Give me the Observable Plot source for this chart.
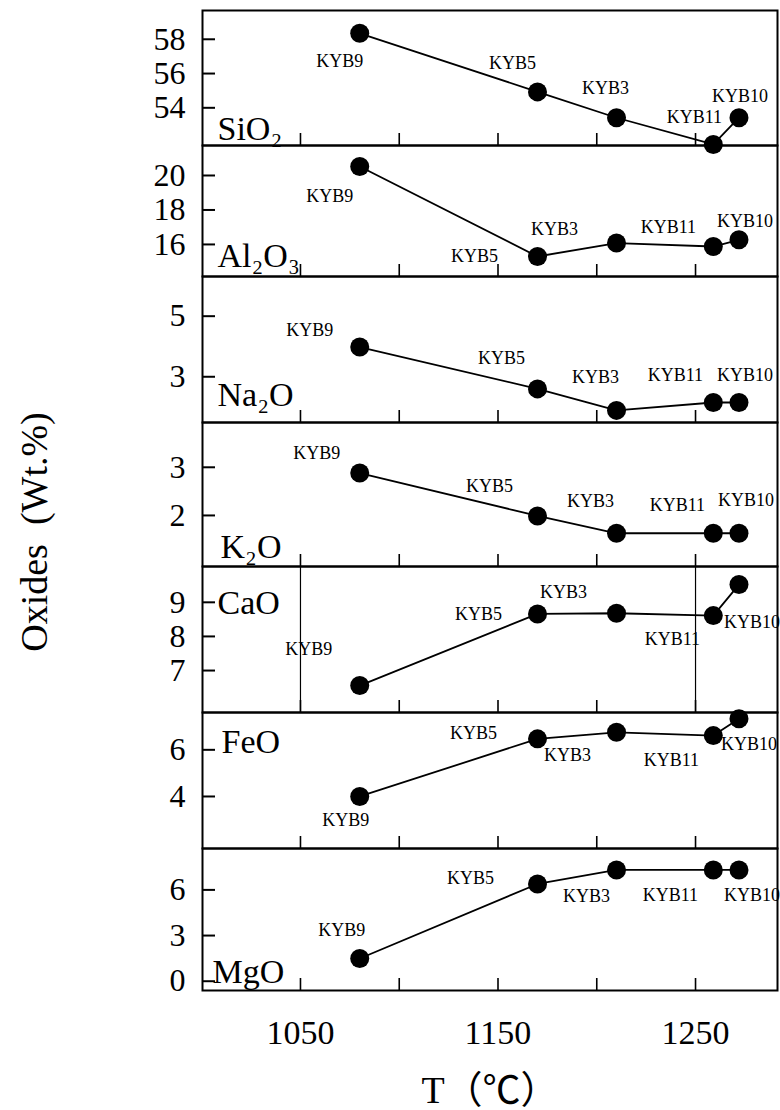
<!DOCTYPE html>
<html><head><meta charset="utf-8">
<script src="https://cdn.jsdelivr.net/npm/d3@7"></script>
<script src="https://cdn.jsdelivr.net/npm/@observablehq/plot@0.6"></script>
<style>
body{margin:0;background:#fff;}
#chart{position:relative;width:780px;height:1110px;font-family:"Liberation Serif",serif;overflow:hidden;}
#chart svg{position:absolute;left:0;}
#chart svg text{font-family:"Liberation Serif","Noto Sans CJK SC",serif;}
#ytitle{position:absolute;left:34px;top:532px;transform:translate(-50%,-50%) rotate(-90deg);white-space:pre;font-size:38px;font-family:"Liberation Serif",serif;color:#000;}
</style></head><body><div id="chart"><div id="ytitle">Oxides  (Wt.%)</div></div>
<script>
// ---- data ----
const samples = ["KYB9", "KYB5", "KYB3", "KYB11", "KYB10"];
const temperature = [1080, 1170, 1210, 1259, 1272];
const oxides = ["SiO₂", "Al₂O₃", "Na₂O", "K₂O", "CaO", "FeO", "MgO"];
const sio2 = [58.35, 54.93, 53.42, 51.86, 53.42];
const al2o3 = [20.52, 15.3, 16.08, 15.88, 16.27];
const na2o = [3.98, 2.6, 1.89, 2.15, 2.15];
const k2o = [2.88, 1.99, 1.63, 1.63, 1.63];
const cao = [6.56, 8.66, 8.68, 8.61, 9.52];
const feo = [4.0, 6.47, 6.75, 6.61, 7.33];
const mgo = [1.49, 6.39, 7.31, 7.31, 7.31];
const sio2Ticks = [54, 56, 58];
const al2o3Ticks = [16, 18, 20];
const na2oTicks = [3, 5];
const k2oTicks = [2, 3];
const caoTicks = [7, 8, 9];
const feoTicks = [4, 6];
const mgoTicks = [0, 3, 6];
const xMinorTicks = [1050, 1100, 1150, 1200, 1250];
const xLabelTicks = [1050, 1150, 1250];
const caoGuides = [1050, 1250];

// ---- layout ----
const W = 780, ML = 202, MR = 3;
const X_DOMAIN = [1000.4, 1291.5];
const FONT = "'Liberation Serif', 'Noto Sans CJK SC', serif";
const edges = [10, 145, 276, 422, 566, 712, 848, 990];
const panels = [
  {values: sio2, ticks: sio2Ticks, domain: [51.8, 59.68], nameDx: 15, nameDy: -6,
   off: [[-20, 28], [-25, -29], [-11, -30], [-19, -27], [1, -22]]},
  {values: al2o3, ticks: al2o3Ticks, domain: [14.14, 21.74], nameDx: 15, nameDy: -10,
   off: [[-30, 30], [-63, 0], [-62, -14], [-45, -19], [6, -19]]},
  {values: na2o, ticks: na2oTicks, domain: [1.49, 6.31], nameDx: 15, nameDy: -17,
   off: [[-50, -17], [-36, -31], [-21, -33], [-38, -27], [6, -27]]},
  {values: k2o, ticks: k2oTicks, domain: [0.94, 3.93], nameDx: 18, nameDy: -9,
   off: [[-43, -20], [-48, -30], [-26, -32], [-36, -28], [7, -33]]},
  {values: cao, ticks: caoTicks, domain: [5.77, 10.05], nameDx: 15, nameDy: -99,
   off: [[-51, -36], [-59, 0], [-53, -21], [-41, 24], [13, 38]], guides: caoGuides},
  {values: feo, ticks: feoTicks, domain: [1.77, 7.6], nameDx: 19, nameDy: -96,
   off: [[-14, 24], [-64, -6], [-49, 23], [-42, 25], [10, 25]]},
  {values: mgo, ticks: mgoTicks, domain: [-0.61, 8.72], nameDx: 10, nameDy: -8,
   off: [[-18, -28], [-67, -6], [-30, 26], [-43, 25], [13, 25]]}
];

const chart = document.getElementById("chart");
const innerW = W - ML - MR;

panels.forEach((p, i) => {
  const top = edges[i], bottom = edges[i + 1];
  const last = i === panels.length - 1;
  const mt = 1, mb = last ? 121 : 1;
  const innerH = bottom - top;
  const h = innerH + mt + mb;
  const data = samples.map((s, j) => ({sample: s, T: temperature[j], v: p.values[j]}));
  const marks = [];
  if (p.guides) marks.push(Plot.ruleX(p.guides, {x: d => d, stroke: "black", strokeWidth: 1.2}));
  marks.push(
    Plot.frame({stroke: "black", strokeWidth: 2}),
    Plot.ruleX(xMinorTicks, {x: d => d, insetTop: innerH - 12, stroke: "black", strokeWidth: 1.6}),
    Plot.ruleY(p.ticks, {y: d => d, insetRight: innerW - 13, stroke: "black", strokeWidth: 2}),
    Plot.axisY(p.ticks, {tickSize: 0, tickPadding: 17, fontSize: 32, fontFamily: FONT, label: null}),
    Plot.line(data, {x: "T", y: "v", stroke: "black", strokeWidth: 1.8}),
    Plot.dot(data, {x: "T", y: "v", r: 9.5, fill: "black", stroke: "none"})
  );
  data.forEach((d, j) => {
    marks.push(Plot.text([d], {x: "T", y: "v", text: "sample", dx: p.off[j][0], dy: p.off[j][1],
      fontSize: 18, fontFamily: FONT, textAnchor: "middle", lineAnchor: "middle"}));
  });
  marks.push(Plot.text([oxides[i]], {text: d => d, frameAnchor: "bottom-left", textAnchor: "start", lineAnchor: "bottom",
    dx: p.nameDx, dy: p.nameDy, fontSize: 34, fontFamily: FONT}));
  if (last) {
    marks.push(Plot.axisX(xLabelTicks, {tickSize: 0, tickPadding: 29, fontSize: 34, fontFamily: FONT, tickFormat: d => String(d),
      label: "T（℃）", labelAnchor: "center", labelOffset: 112, labelArrow: "none"}));
  }
  const svg = Plot.plot({
    width: W, height: h,
    marginLeft: ML, marginRight: MR, marginTop: mt, marginBottom: mb,
    x: {domain: X_DOMAIN, axis: last ? undefined : null},
    y: {domain: p.domain},
    style: {fontFamily: FONT, background: "transparent", overflow: "visible", color: "black"},
    marks
  });
  svg.style.top = (top - mt) + "px";
  if (last) {
    d3.select(svg).selectAll('[aria-label="x-axis label"]').attr("font-size", 38).style("font-size", "38px");
  }
  chart.appendChild(svg);
});
</script></body></html>
